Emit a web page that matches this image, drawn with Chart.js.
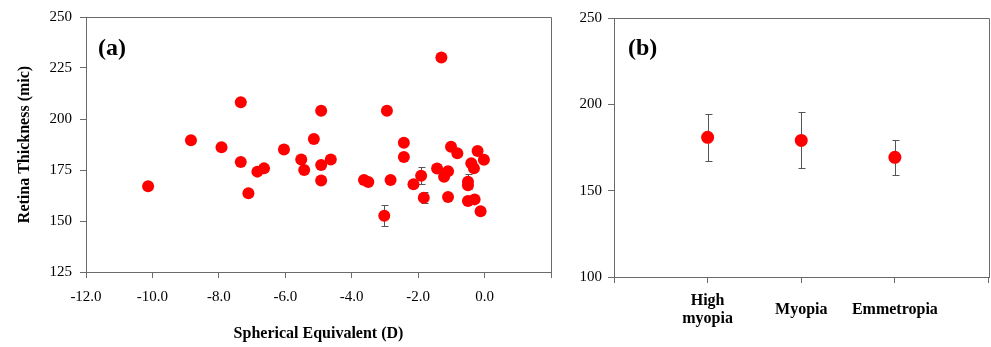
<!DOCTYPE html>
<html>
<head>
<meta charset="utf-8">
<script src="https://cdn.jsdelivr.net/npm/chart.js@4"></script>
<style>
  html, body { margin: 0; padding: 0; background: #fff; }
  #wrap { position: relative; width: 991px; height: 347px; overflow: hidden; }
  .panel { position: absolute; top: 0; height: 347px; }
  #panelA { left: 0; width: 560px; }
  /* un poco más ancho: Chart.js reserva ~6px a la derecha */
  #panelB { left: 560px; width: 435px; }
  .tag { position: absolute; top: 35px; font: bold 24px "Liberation Serif", "Times New Roman", serif; line-height: 24px; color: #000; }
</style>
</head>
<body>
<div id="wrap">
  <div class="panel" id="panelA"><canvas id="chartA"></canvas></div>
  <div class="panel" id="panelB"><canvas id="chartB"></canvas></div>
  <div class="tag" style="left:98px">(a)</div>
  <div class="tag" style="left:628px">(b)</div>
</div>
<script>
// 1. DATOS
// panel (a): equivalente esférico vs grosor de retina
const seValues = [
  -10.13, -8.84, -7.92, -7.34, -7.34, -7.11, -6.84, -6.64, -6.04, -5.52,
  -5.43, -5.14, -4.92, -4.92, -4.92, -4.63, -3.63, -3.50, -3.02, -2.94,
  -2.83, -2.43, -2.43, -2.14, -1.91, -1.83, -1.30, -1.43, -1.22, -1.10,
  -1.10, -1.01, -0.82, -0.50, -0.50, -0.40, -0.32, -0.21, -0.02, -0.50,
  -0.30, -0.12
];
const thicknessValues = [
  167.0, 189.6, 186.1, 208.2, 178.9, 163.6, 174.2, 175.8, 185.0, 180.2,
  175.0, 190.2, 204.1, 177.5, 169.8, 180.2, 170.1, 169.1, 152.6, 204.1,
  170.1, 188.4, 181.4, 168.0, 172.2, 161.4, 230.2, 175.7, 171.7, 174.4,
  161.8, 186.4, 183.2, 169.3, 167.5, 178.3, 175.8, 184.3, 180.0, 159.8,
  160.6, 154.8
];
// barras de error visibles en (a)
const errSE = [-3.02, -1.91, -1.83, -0.50];
const errMean = [152.6, 172.2, 161.4, 169.3];
const errSD = [5.0, 4.3, 2.7, 3.6];

// panel (b): medias por grupo
const groupLabels = [["High", "myopia"], "Myopia", "Emmetropia"];
const groupPos = [1, 2, 3];
const groupMeans = [180.9, 179.1, 169.3];
const groupSD = [13.5, 16.2, 10.3];

const xTicksA = { min: -12, max: 2, step: 2 };
const yTicksA = { min: 125, max: 250, step: 25 };
const yTicksB = { min: 100, max: 250, step: 50 };

// 2. AUXILIARES
const AXIS = "#6a6a6a";
const RED = "#ff0000";
const SERIF = "'Liberation Serif', 'Times New Roman', serif";

const errorBarPlugin = {
  id: "errorBars",
  beforeDatasetsDraw(chart, args, opts) {
    if (!opts.xs) return;
    const { ctx, scales: { x, y } } = chart;
    ctx.save();
    ctx.strokeStyle = opts.color;
    ctx.lineWidth = 1;
    opts.xs.forEach((xv, i) => {
      const px = Math.round(x.getPixelForValue(xv)) + 0.5;
      const top = Math.round(y.getPixelForValue(opts.ys[i] + opts.errs[i])) + 0.5;
      const bot = Math.round(y.getPixelForValue(opts.ys[i] - opts.errs[i])) + 0.5;
      ctx.beginPath();
      ctx.moveTo(px, top); ctx.lineTo(px, bot);
      ctx.moveTo(px - opts.cap, top); ctx.lineTo(px + opts.cap + 1, top);
      ctx.moveTo(px - opts.cap, bot); ctx.lineTo(px + opts.cap + 1, bot);
      ctx.stroke();
    });
    ctx.restore();
  }
};

const framePlugin = {
  id: "frame",
  beforeDatasetsDraw(chart) {
    const { ctx, chartArea: a } = chart;
    ctx.save();
    ctx.strokeStyle = AXIS;
    ctx.lineWidth = 1;
    const t = Math.round(a.top) + 0.5, r = Math.round(a.right) + 0.5;
    ctx.beginPath();
    ctx.moveTo(Math.round(a.left), t); ctx.lineTo(r, t); ctx.lineTo(r, Math.round(a.bottom) + 1);
    ctx.stroke();
    ctx.restore();
  }
};

function axisBase() {
  return {
    grid: { display: true, drawOnChartArea: false, color: AXIS, tickLength: 6 },
    border: { display: true, color: AXIS }
  };
}

// el eje x no debe reservar margen lateral para sus etiquetas
function fixXHeight(h) {
  return s => { s.height = h; s.paddingLeft = 0; s.paddingRight = 0; };
}

// 3. GRÁFICAS
function initChartA() {
  new Chart(document.getElementById("chartA"), {
    type: "scatter",
    data: {
      datasets: [{
        data: seValues.map((x, i) => ({ x, y: thicknessValues[i] })),
        backgroundColor: RED,
        borderColor: RED,
        pointRadius: 6,
        pointBorderWidth: 0
      }]
    },
    options: {
      responsive: true,
      maintainAspectRatio: false,
      animation: false,
      layout: { padding: { top: 17, right: 9, left: 0, bottom: 0 } },
      plugins: {
        legend: { display: false },
        tooltip: { enabled: false },
        errorBars: { xs: errSE, ys: errMean, errs: errSD, cap: 3, color: "#555" }
      },
      scales: {
        x: {
          type: "linear",
          ...axisBase(),
          min: xTicksA.min, max: xTicksA.max,
          ticks: {
            stepSize: xTicksA.step, autoSkip: false, maxRotation: 0,
            padding: 10, color: "#000",
            font: { family: SERIF, size: 15 },
            callback: v => (v >= xTicksA.max ? "" : v.toFixed(1))
          },
          title: {
            display: true, text: "Spherical Equivalent (D)", color: "#000",
            font: { family: SERIF, size: 16, weight: "bold" },
            padding: { top: 0, bottom: 4 }
          },
          afterFit: fixXHeight(75)
        },
        y: {
          ...axisBase(),
          min: yTicksA.min, max: yTicksA.max,
          ticks: {
            stepSize: yTicksA.step, padding: 8, color: "#000",
            font: { family: SERIF, size: 15 }
          },
          title: {
            display: true, text: "Retina Thickness (mic)", color: "#000",
            font: { family: SERIF, size: 16, weight: "bold" },
            padding: { top: 15, bottom: 0 }
          },
          afterFit: s => { s.width = 86; }
        }
      }
    },
    plugins: [framePlugin, errorBarPlugin]
  });
}

function initChartB() {
  new Chart(document.getElementById("chartB"), {
    type: "scatter",
    data: {
      datasets: [{
        data: groupPos.map((x, i) => ({ x, y: groupMeans[i] })),
        backgroundColor: RED,
        borderColor: RED,
        pointRadius: 6.5,
        pointBorderWidth: 0
      }]
    },
    options: {
      responsive: true,
      maintainAspectRatio: false,
      animation: false,
      layout: { padding: { top: 18, right: 2, left: 0, bottom: 0 } },
      plugins: {
        legend: { display: false },
        tooltip: { enabled: false },
        errorBars: { xs: groupPos, ys: groupMeans, errs: groupSD, cap: 3, color: "#555" }
      },
      scales: {
        x: {
          type: "linear",
          ...axisBase(),
          min: 0, max: groupLabels.length + 1,
          ticks: {
            stepSize: 1, autoSkip: false, maxRotation: 0,
            padding: 18, color: "#000", crossAlign: "center",
            font: { family: SERIF, size: 16, weight: "bold", lineHeight: 1.1 },
            callback: v => groupLabels[v - 1] ?? ""
          },
          afterFit: fixXHeight(70)
        },
        y: {
          ...axisBase(),
          min: yTicksB.min, max: yTicksB.max,
          ticks: {
            stepSize: yTicksB.step, padding: 6, color: "#000",
            font: { family: SERIF, size: 15 }
          },
          afterFit: s => { s.width = 54; }
        }
      }
    },
    plugins: [framePlugin, errorBarPlugin]
  });
}

// 4. INICIALIZACIÓN
initChartA();
initChartB();
</script>
</body>
</html>
